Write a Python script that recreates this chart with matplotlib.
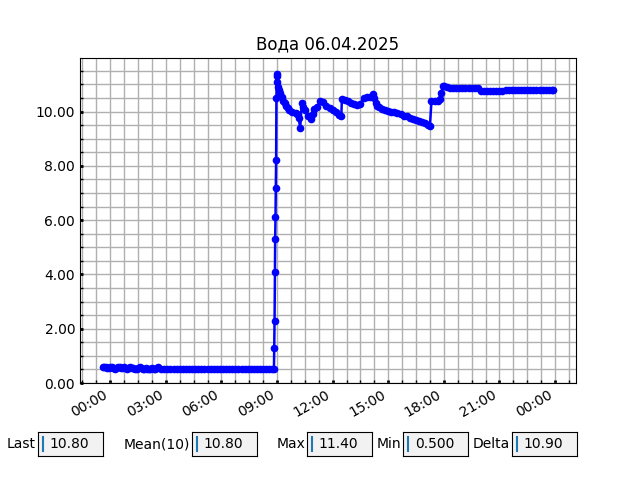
import matplotlib
matplotlib.use("Agg")
import matplotlib.pyplot as plt
import matplotlib.dates as mdates
from matplotlib.ticker import MultipleLocator, AutoMinorLocator, FormatStrFormatter
import numpy as np
import pandas as pd

title = "Вода 06.04.2025"
base_day = "2025-04-06 00:00"

# minutes relative to 06.04.2025 00:00
low_minutes = [-25, -20, -15, -10, -5, 0, 5, 10, 15, 20, 25, 30, 35, 40, 45, 50, 55, 60, 65, 70,
               75, 80, 85, 90, 95, 100, 105, 110, 115, 120, 125, 130, 135, 140, 145, 150, 155,
               165, 175, 185, 195, 205, 215, 225, 235, 245, 255, 265, 275, 285, 295, 305, 315,
               325, 335, 345, 355, 365, 375, 385, 395, 405, 415, 425, 435, 445, 455, 465, 475,
               485, 495, 505, 515, 525]
low_values = [0.6, 0.6, 0.6, 0.55, 0.55, 0.6, 0.6, 0.55, 0.5, 0.55, 0.6, 0.6, 0.55, 0.55, 0.6, 0.55, 0.5, 0.55, 0.6, 0.55,
              0.55, 0.5, 0.5, 0.55, 0.6, 0.55, 0.5, 0.5, 0.55, 0.5, 0.5, 0.5, 0.55, 0.5, 0.5, 0.55, 0.6,
              0.5, 0.5, 0.5, 0.5, 0.5, 0.5, 0.5, 0.5, 0.5, 0.5, 0.5, 0.5, 0.5, 0.5, 0.5, 0.5,
              0.5, 0.5, 0.5, 0.5, 0.5, 0.5, 0.5, 0.5, 0.5, 0.5, 0.5, 0.5, 0.5, 0.5, 0.5, 0.5,
              0.5, 0.5, 0.5, 0.5, 0.5]

rise_minutes = [530, 531, 532, 533, 534, 535, 536, 537, 538, 539, 540, 541, 543, 545]
rise_values = [0.5, 1.3, 2.3, 4.1, 5.3, 6.1, 7.2, 8.2, 10.5, 11.4, 11.3, 11.1, 10.9, 10.8]

high_minutes = [550, 555, 560, 565, 570, 575, 580, 590, 600, 605, 610, 615, 620, 625, 630, 640, 650, 655, 660, 670, 680, 690,
                700, 710, 720, 730, 740, 748, 750, 760, 770, 780, 790, 800, 810, 820, 830, 840,
                850, 855, 860, 865, 870, 880, 890, 900, 910, 920, 930, 940, 950, 960, 970, 980, 990,
                1000, 1010, 1020, 1030, 1035, 1040, 1050, 1060, 1068, 1072, 1077, 1080, 1090,
                1100, 1110, 1120, 1130, 1140, 1150, 1160, 1170, 1180, 1190,
                1200, 1210, 1220, 1230, 1240, 1250, 1260, 1270,
                1280, 1290, 1300, 1310, 1320, 1330, 1340, 1350, 1360, 1370, 1380, 1390, 1400,
                1410, 1420, 1430, 1435]
high_values = [10.70, 10.55, 10.40, 10.30, 10.20, 10.12, 10.05, 9.97, 9.95, 9.90, 9.75, 9.40, 10.30, 10.15, 10.05, 9.85, 9.72, 9.90, 10.10, 10.15, 10.40, 10.35,
               10.20, 10.12, 10.05, 9.98, 9.88, 9.82, 10.45, 10.42, 10.38, 10.30, 10.27, 10.25, 10.28, 10.50, 10.52, 10.55,
               10.65, 10.50, 10.30, 10.22, 10.18, 10.10, 10.06, 10.03, 10.00, 9.97, 9.93, 9.90, 9.85, 9.82, 9.78, 9.72, 9.68,
               9.65, 9.60, 9.57, 9.52, 9.45, 10.40, 10.40, 10.38, 10.45, 10.70, 10.95, 10.95, 10.90,
               10.85, 10.85, 10.85, 10.85, 10.85, 10.85, 10.85, 10.85, 10.85, 10.85,
               10.75, 10.75, 10.75, 10.75, 10.75, 10.75, 10.75, 10.75,
               10.80, 10.80, 10.80, 10.80, 10.80, 10.80, 10.80, 10.80, 10.80, 10.80, 10.80, 10.80, 10.80,
               10.80, 10.80, 10.80, 10.80]

stat_labels = ["Last", "Mean(10)", "Max", "Min", "Delta"]

minutes = low_minutes + rise_minutes + high_minutes
values = np.array(low_values + rise_values + high_values)
times = pd.Timestamp(base_day) + pd.to_timedelta(minutes, unit="min")

fig = plt.figure(figsize=(6.4, 4.8), dpi=100)
ax = fig.add_axes([0.125, 0.202, 0.775, 0.677])
ax.plot(times, values, color="#0000ff", linewidth=1.8, marker="o", markersize=4.5)
ax.set_title(title, fontsize=12)
ax.set_ylim(0, 11.97)
ax.yaxis.set_major_locator(MultipleLocator(2))
ax.yaxis.set_minor_locator(AutoMinorLocator(4))
ax.yaxis.set_major_formatter(FormatStrFormatter("%.2f"))
ax.xaxis.set_major_locator(mdates.HourLocator(byhour=range(0, 24, 3)))
ax.xaxis.set_major_formatter(mdates.DateFormatter("%H:%M"))
ax.xaxis.set_minor_locator(AutoMinorLocator(4))
ax.grid(True, which="both", color="#b0b0b0", linewidth=1)
ax.set_axisbelow(True)
ax.tick_params(which="major", direction="in", length=2.5, width=2)
ax.tick_params(which="minor", direction="in", length=2, width=1)
for lbl in ax.get_xticklabels():
    lbl.set_rotation(30)
    lbl.set_ha("right")

last = values[-1]
mean10 = values[-10:].mean()
vmax = values.max()
vmin = values.min()
delta = vmax - vmin
stat_texts = [f"{last:.2f}", f"{mean10:.2f}", f"{vmax:.2f}", f"{vmin:.3f}", f"{delta:.2f}"]
box_lefts = [38, 192, 307, 403, 512]
W, H = 640, 480
for lab, txt, bl in zip(stat_labels, stat_texts, box_lefts):
    bax = fig.add_axes([bl / W, 1 - 456 / H, 65 / W, 24 / H])
    bax.set_facecolor("#f2f2f2")
    bax.set_xticks([])
    bax.set_yticks([])
    bax.text(-0.03, 0.5, lab, transform=bax.transAxes, ha="right", va="center", fontsize=10)
    bax.text(0.18, 0.5, txt, transform=bax.transAxes, ha="left", va="center", fontsize=10)
    bax.plot([0.07, 0.07], [0.2, 0.8], color="#1f77b4", linewidth=1.5, transform=bax.transAxes)

fig.savefig("out.png", dpi=100)
